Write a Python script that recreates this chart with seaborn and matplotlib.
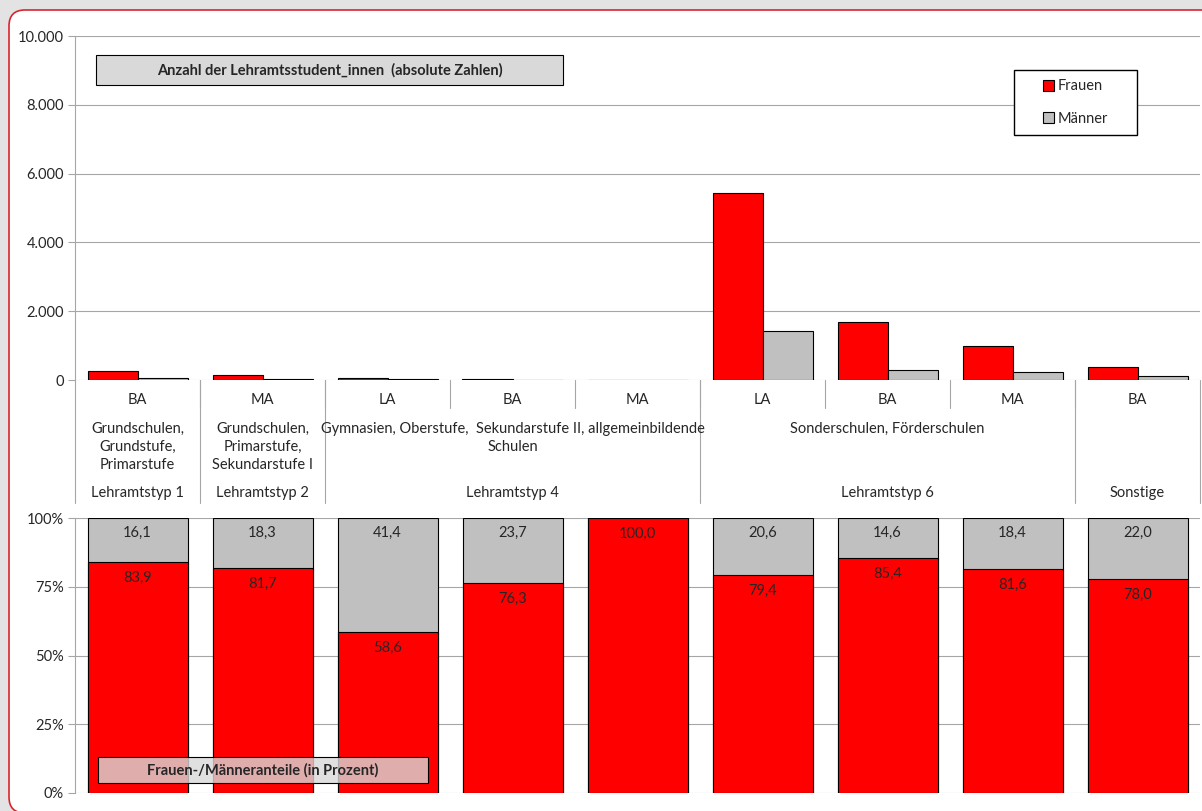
import numpy as np
import pandas as pd
import seaborn as sns
import matplotlib.pyplot as plt
from matplotlib.patches import Rectangle, FancyBboxPatch, Patch
from matplotlib.ticker import FuncFormatter, MultipleLocator
from matplotlib.transforms import IdentityTransform, blended_transform_factory

# Daten
abschluss = ['BA', 'MA', 'LA', 'BA', 'MA', 'LA', 'BA', 'MA', 'BA']
kategorie = [f'{i}_{a}' for i, a in enumerate(abschluss)]
frauen_abs = [260, 150, 50, 29, 12, 5450, 1680, 1000, 370]
maenner_abs = [50, 34, 35, 9, 0, 1410, 290, 225, 104]
frauen_pct = [83.9, 81.7, 58.6, 76.3, 100.0, 79.4, 85.4, 81.6, 78.0]
maenner_pct = [16.1, 18.3, 41.4, 23.7, 0.0, 20.6, 14.6, 18.4, 22.0]

gruppe_von = [0, 1, 2, 5, 8]
gruppe_bis = [0, 1, 4, 7, 8]
beschreibung = ['Grundschulen,\nGrundstufe,\nPrimarstufe',
                'Grundschulen,\nPrimarstufe,\nSekundarstufe I',
                'Gymnasien, Oberstufe,  Sekundarstufe II, allgemeinbildende\nSchulen',
                'Sonderschulen, Förderschulen',
                '']
lehramtstyp = ['Lehramtstyp 1', 'Lehramtstyp 2', 'Lehramtstyp 4', 'Lehramtstyp 6', 'Sonstige']

ROT = '#ff0000'
GRAU = '#c0c0c0'
GRID = '#a6a6a6'
FS = 10.5

sns.set_style('white')
plt.rcParams['font.family'] = ['Lato', 'DejaVu Sans']
plt.rcParams['font.size'] = FS

W, H = 1202, 811
fig = plt.figure(figsize=(W / 100, H / 100), dpi=100)
fig.patch.set_facecolor('#e3e3e3')

# weisses Panel mit rotem Rand
panel = FancyBboxPatch((9, -2), 1400, 803, boxstyle='round,pad=0,rounding_size=16',
                       transform=IdentityTransform(), fc='white', ec='#d8262c',
                       lw=1.2, zorder=-5)
fig.add_artist(panel)

def fx(px):
    return px / W

def fy(py):
    return (H - py) / H

ax1 = fig.add_axes([fx(75), fy(380), fx(1200) - fx(75), fy(36) - fy(380)])
ax2 = fig.add_axes([fx(75), fy(793), fx(1200) - fx(75), fy(518) - fy(793)])

# oben: absolute Zahlen
df_abs = pd.DataFrame({
    'kategorie': kategorie * 2,
    'geschlecht': ['Frauen'] * len(kategorie) + ['Männer'] * len(kategorie),
    'anzahl': frauen_abs + maenner_abs,
})
sns.barplot(data=df_abs, x='kategorie', y='anzahl', hue='geschlecht', order=kategorie,
            palette={'Frauen': ROT, 'Männer': GRAU}, saturation=1, width=0.8,
            edgecolor='black', linewidth=0.8, errorbar=None, legend=False, ax=ax1)
ax1.set_ylim(0, 10000)
ax1.yaxis.set_major_locator(MultipleLocator(2000))
ax1.yaxis.set_major_formatter(FuncFormatter(lambda v, p: f'{int(v):,}'.replace(',', '.')))

# unten: Anteile (gestapelt)
gesamt_pct = [f + m for f, m in zip(frauen_pct, maenner_pct)]
sns.barplot(x=kategorie, y=gesamt_pct, order=kategorie, color=GRAU, saturation=1,
            width=0.8, edgecolor='black', linewidth=0.8, errorbar=None, ax=ax2)
sns.barplot(x=kategorie, y=frauen_pct, order=kategorie, color=ROT, saturation=1,
            width=0.8, edgecolor='black', linewidth=0.8, errorbar=None, ax=ax2)
ax2.set_ylim(0, 100)
ax2.yaxis.set_major_locator(MultipleLocator(25))
ax2.yaxis.set_major_formatter(FuncFormatter(lambda v, p: f'{int(v)}%'))

for i in range(len(kategorie)):
    if maenner_pct[i] > 0:
        ax2.annotate(f'{maenner_pct[i]:.1f}'.replace('.', ','), xy=(i, gesamt_pct[i]),
                     xytext=(0, -6), textcoords='offset points', ha='center', va='top')
    ax2.annotate(f'{frauen_pct[i]:.1f}'.replace('.', ','), xy=(i, frauen_pct[i]),
                 xytext=(0, -6.5), textcoords='offset points', ha='center', va='top')

for ax in (ax1, ax2):
    ax.set_xlim(-0.5, len(kategorie) - 0.5)
    ax.set_xlabel('')
    ax.set_ylabel('')
    ax.set_xticks([])
    ax.set_facecolor('none')
    ax.yaxis.grid(True, color=GRID, lw=0.8)
    ax.set_axisbelow(True)
    for s in ('top', 'right', 'bottom'):
        ax.spines[s].set_visible(False)
    ax.spines['left'].set_color(GRID)
    ax.spines['left'].set_linewidth(0.8)
    ax.tick_params(axis='y', left=True, length=5, width=0.8, color=GRID,
                   labelsize=FS, pad=3)

# Kategorienachse unter dem oberen Diagramm
tr = blended_transform_factory(ax1.transData, ax1.transAxes)
h1 = ax1.get_position().height * H
for i in range(len(kategorie) - 1):
    ax1.plot([i + 0.5, i + 0.5], [0, -28 / h1], color=GRID, lw=0.8, transform=tr, clip_on=False)
grenzen = [gruppe_von[0] - 0.5] + [b + 0.5 for b in gruppe_bis]
for g in grenzen:
    ax1.plot([g, g], [0, -123 / h1], color=GRID, lw=0.8, transform=tr, clip_on=False)
for i, a in enumerate(abschluss):
    ax1.text(i, -20 / h1, a, transform=tr, ha='center', va='center')
for v, b, txt, typ in zip(gruppe_von, gruppe_bis, beschreibung, lehramtstyp):
    mitte = (v + b) / 2
    ax1.text(mitte, -42 / h1, txt, transform=tr, ha='center', va='top', linespacing=1.35)
    ax1.text(mitte, -113 / h1, typ, transform=tr, ha='center', va='center')

# Legende mit eigenem Rahmen
fig.add_artist(Rectangle((fx(1014), fy(135)), fx(1137) - fx(1014), fy(70) - fy(135),
                         transform=fig.transFigure, fc='white', ec='black', lw=1.0, zorder=3))
fig.legend(handles=[Patch(fc=ROT, ec='black', lw=0.8, label='Frauen'),
                    Patch(fc=GRAU, ec='black', lw=0.8, label='Männer')],
           loc='center', bbox_to_anchor=(fx(1075.5), fy(102.5)), frameon=False,
           handlelength=0.8, handleheight=0.8, handletextpad=0.25, labelspacing=1.25,
           fontsize=FS).set_zorder(4)

# Beschriftungskästen
fig.add_artist(Rectangle((fx(96), fy(85)), fx(563) - fx(96), fy(55) - fy(85),
                         transform=fig.transFigure, fc='#d9d9d9', ec='black', lw=0.8, zorder=3))
fig.text(fx(329.5), fy(70), 'Anzahl der Lehramtsstudent_innen  (absolute Zahlen)',
         ha='center', va='center', fontsize=FS, fontweight='bold', zorder=4)

fig.add_artist(Rectangle((fx(98), fy(783)), fx(428) - fx(98), fy(757) - fy(783),
                         transform=fig.transFigure, fc=(0.85, 0.85, 0.85, 0.8), ec='black',
                         lw=0.8, zorder=3))
fig.text(fx(263), fy(770), 'Frauen-/Männeranteile (in Prozent)',
         ha='center', va='center', fontsize=FS, fontweight='bold', zorder=4)

fig.savefig('out.png', dpi=100, facecolor=fig.get_facecolor())
